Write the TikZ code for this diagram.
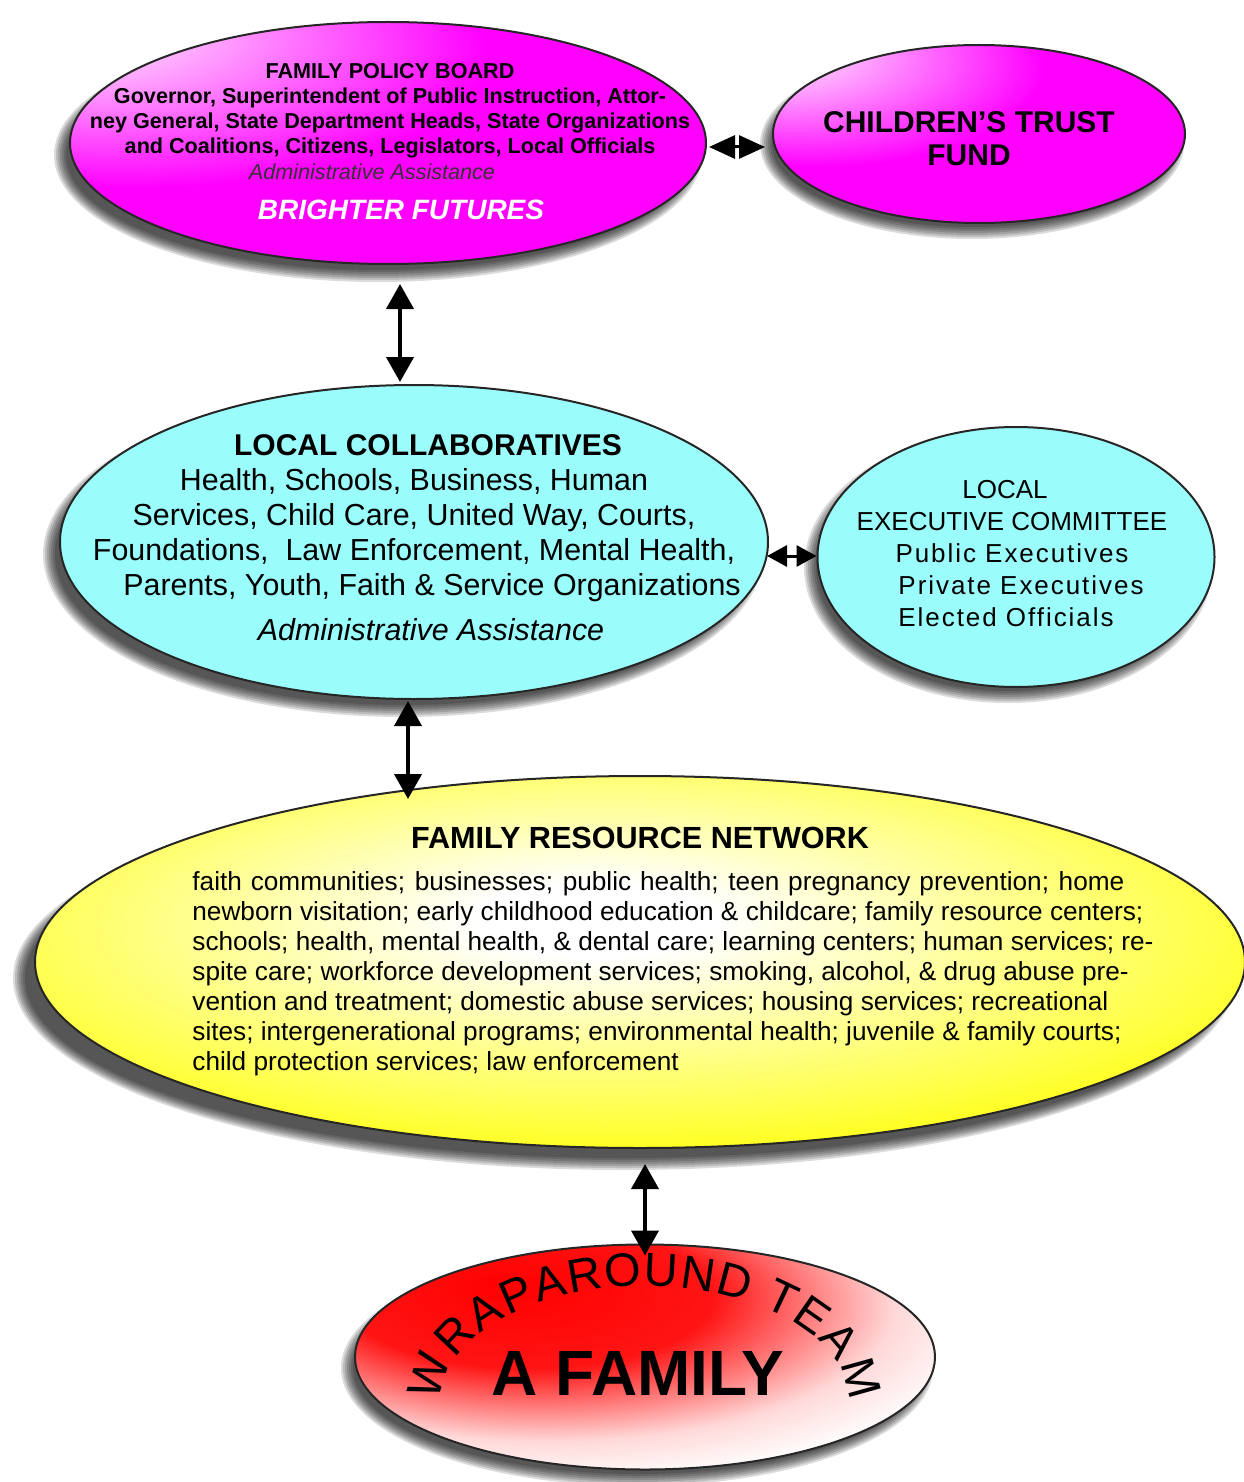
\documentclass[tikz,border=0pt]{standalone}
\usepackage{fontspec}
\setmainfont{Liberation Sans}
\newfontfamily\spacedfont{Liberation Sans}[LetterSpace=7.5]
\usetikzlibrary{shapes.geometric,arrows.meta,calc,decorations.text}
\definecolor{pinkhi}{RGB}{255,222,255}
\definecolor{mag}{RGB}{255,0,255}
\definecolor{cyanfill}{RGB}{155,252,252}
\definecolor{yel}{RGB}{255,255,0}
\definecolor{rd}{RGB}{255,0,0}
\pgfdeclareradialshading{pinkshade}{\pgfpoint{-28bp}{26bp}}{color(0bp)=(pinkhi); color(5bp)=(pinkhi); color(28bp)=(mag); color(100bp)=(mag)}
\pgfdeclareradialshading{yelshade}{\pgfpoint{-2bp}{6bp}}{color(0bp)=(white); color(5bp)=(white); color(16bp)=(yel!40!white); color(30bp)=(yel!88!white); color(38bp)=(yel); color(100bp)=(yel)}
\pgfdeclareradialshading{redshade}{\pgfpoint{-12bp}{16bp}}{color(0bp)=(rd); color(16bp)=(rd!92!white); color(30bp)=(rd!15!white); color(38bp)=(white); color(50bp)=(rd!30!white); color(100bp)=(rd!30!white)}
\newcommand\softshadow[4]{\foreach \k in {0,...,6}{\fill[black,opacity=0.14] (#1,#2) ellipse [x radius={#3+6-2*\k}, y radius={#4+6-2*\k}];}}
\tikzset{
  ellbase/.style={ellipse, inner sep=0pt, draw=black!85, line width=1pt},
  vdbl/.style={line width=2pt, arrows={Triangle[width=13.5pt,length=12.5pt]-Triangle[width=13.5pt,length=12.5pt]}},
  hdbl/.style={line width=1.5pt, arrows={Triangle[width=11.5pt,length=13pt]-Triangle[width=11.5pt,length=13pt]}},
  hdbls/.style={line width=1.5pt, arrows={Triangle[width=10.5pt,length=10pt]-Triangle[width=10.5pt,length=10pt]}}
}
\begin{document}
\begin{tikzpicture}[x=0.5pt,y=-0.5pt]
\fill[white] (0,0) rectangle (1243,1482);
\useasboundingbox (0,0) rectangle (1243,1482);
% shadows
\softshadow{378}{155}{318}{121}
\softshadow{972}{144}{206}{89}
\softshadow{403}{554}{354}{157}
\softshadow{1008}{567}{198}{130}
\softshadow{624}{978}{605}{186}
\softshadow{637}{1368}{290}{112}
% ellipses
\node[ellbase, minimum width=318pt, minimum height=121pt, shade, shading=pinkshade] (fpb) at (388,143) {};
\node[ellbase, minimum width=206pt, minimum height=89pt, shade, shading=pinkshade] (ctf) at (979,134) {};
\node[ellbase, minimum width=354pt, minimum height=157pt, fill=cyanfill] (lc) at (414,542) {};
\node[ellbase, minimum width=198.5pt, minimum height=130pt, fill=cyanfill] (lec) at (1016,557) {};
\node[ellbase, minimum width=605pt, minimum height=186pt, shade, shading=yelshade] (frn) at (640,962) {};
\node[ellbase, minimum width=290pt, minimum height=112.5pt, shade, shading=redshade] (wrap) at (645,1357) {};
% texts
\node[font=\bfseries\fontsize{10.8}{12.5}\selectfont, align=center] (fpbt) at (390,111) {FAMILY POLICY BOARD\\Governor, Superintendent of Public Instruction, Attor-\\ney General, State Department Heads, State Organizations\\and Coalitions, Citizens, Legislators, Local Officials};
\node[font=\itshape\fontsize{10.8}{12.5}\selectfont, text=black!80] (fpba) at (372,172) {Administrative Assistance};
\node[font=\bfseries\itshape\fontsize{14}{16}\selectfont, text=white] (fpbb) at (401,210) {BRIGHTER FUTURES};
\node[font=\bfseries\fontsize{15}{16.5}\selectfont, align=center] (ctft) at (969,139) {CHILDREN’S TRUST\\FUND};
\node[font=\fontsize{15.2}{17.5}\selectfont, align=center] (lct) at (414,518) {\hspace*{14pt}{\bfseries\fontsize{15}{17.5}\selectfont LOCAL COLLABORATIVES}\\Health, Schools, Business, Human\hspace*{18pt}\\Services, Child Care, United Way, Courts,\hspace*{11pt}\\Foundations,\ \ Law Enforcement, Mental Health,\\\hspace*{18pt}Parents, Youth, Faith \& Service Organizations};
\node[font=\itshape\fontsize{15.2}{17.5}\selectfont] (lca) at (431,630) {Administrative Assistance};
\node[font=\fontsize{13}{16}\selectfont, align=center] (lect) at (1012,554) {LOCAL\hspace*{7pt}\\EXECUTIVE COMMITTEE\\{\spacedfont Public Executives}\\\hspace*{9pt}{\spacedfont Private Executives}\\{\spacedfont Elected Officials}\hspace*{6pt}};
\node[font=\bfseries\fontsize{15.3}{18}\selectfont] (frnt) at (640,838) {FAMILY RESOURCE NETWORK};
\node[font=\fontsize{13.1}{15}\selectfont, align=left, anchor=west, inner sep=0pt] (frnb) at (192,974) {\makebox[466pt][s]{faith communities; businesses; public health; teen pregnancy prevention; home}\\newborn visitation; early childhood education \& childcare; family resource centers;\\schools; health, mental health, \& dental care; learning centers; human services; re-\\spite care; workforce development services; smoking, alcohol, \& drug abuse pre-\\vention and treatment; domestic abuse services; housing services; recreational\\sites; intergenerational programs; environmental health; juvenile \& family courts;\\child protection services; law enforcement};
\node[font=\bfseries\fontsize{32}{34}\selectfont] (famt) at (638,1373) {A FAMILY};
\path[decorate, decoration={text along path, text={|\fontsize{23.5}{23.5}\selectfont|WRAPAROUND TEAM}, text align=fit to path}] plot[samples=150, domain=0:180] ({645-204*cos(\x)},{1402-116*sin(\x)});
% connectors
\draw[vdbl] ($(fpb.south)+(12,19)$) -- ($(lc.north)+(-14,-2)$);
\draw[vdbl] ($(lc.south)+(-6,1)$) -- ($(frn.north)+(-232,24)$);
\draw[vdbl] ($(frn.south)+(5,15)$) -- ($(wrap.north)+(0,12)$);
\draw[hdbl] ($(fpb.east)+(2,4)$) -- ($(ctf.west)+(-7,13)$);
\draw[hdbls] ($(lc.east)+(-2,14)$) -- ($(lec.west)+(0,-1)$);
\end{tikzpicture}
\end{document}
